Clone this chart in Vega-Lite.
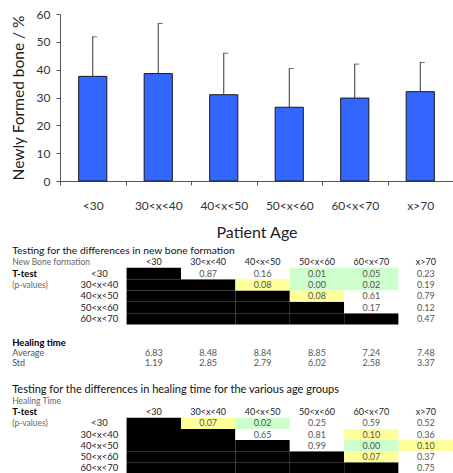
{
"$schema": "https://vega.github.io/schema/vega-lite/v6.json",
"padding": {"left": 11, "top": 8, "right": 0, "bottom": 0},
"config": {"view": {"stroke": null}, "font": "Lato"},
"datasets": {
"bone": [
{"age":"<30","mean":37.6,"upper":51.8},
{"age":"30<x<40","mean":38.6,"upper":56.6},
{"age":"40<x<50","mean":31.0,"upper":45.9},
{"age":"50<x<60","mean":26.5,"upper":40.4},
{"age":"60<x<70","mean":29.8,"upper":42.0},
{"age":"x>70","mean":32.1,"upper":42.6}
],
"nb": [
{"row":"<30","col":"<30","p":null},{"row":"<30","col":"30<x<40","p":0.87},{"row":"<30","col":"40<x<50","p":0.16},{"row":"<30","col":"50<x<60","p":0.01},{"row":"<30","col":"60<x<70","p":0.05},{"row":"<30","col":"x>70","p":0.23},
{"row":"30<x<40","col":"<30","p":null},{"row":"30<x<40","col":"30<x<40","p":null},{"row":"30<x<40","col":"40<x<50","p":0.08},{"row":"30<x<40","col":"50<x<60","p":0.00},{"row":"30<x<40","col":"60<x<70","p":0.02},{"row":"30<x<40","col":"x>70","p":0.19},
{"row":"40<x<50","col":"<30","p":null},{"row":"40<x<50","col":"30<x<40","p":null},{"row":"40<x<50","col":"40<x<50","p":null},{"row":"40<x<50","col":"50<x<60","p":0.08},{"row":"40<x<50","col":"60<x<70","p":0.61},{"row":"40<x<50","col":"x>70","p":0.79},
{"row":"50<x<60","col":"<30","p":null},{"row":"50<x<60","col":"30<x<40","p":null},{"row":"50<x<60","col":"40<x<50","p":null},{"row":"50<x<60","col":"50<x<60","p":null},{"row":"50<x<60","col":"60<x<70","p":0.17},{"row":"50<x<60","col":"x>70","p":0.12},
{"row":"60<x<70","col":"<30","p":null},{"row":"60<x<70","col":"30<x<40","p":null},{"row":"60<x<70","col":"40<x<50","p":null},{"row":"60<x<70","col":"50<x<60","p":null},{"row":"60<x<70","col":"60<x<70","p":null},{"row":"60<x<70","col":"x>70","p":0.47}
],
"ht": [
{"row":"<30","col":"<30","p":null},{"row":"<30","col":"30<x<40","p":0.07},{"row":"<30","col":"40<x<50","p":0.02},{"row":"<30","col":"50<x<60","p":0.25},{"row":"<30","col":"60<x<70","p":0.59},{"row":"<30","col":"x>70","p":0.52},
{"row":"30<x<40","col":"<30","p":null},{"row":"30<x<40","col":"30<x<40","p":null},{"row":"30<x<40","col":"40<x<50","p":0.65},{"row":"30<x<40","col":"50<x<60","p":0.81},{"row":"30<x<40","col":"60<x<70","p":0.10},{"row":"30<x<40","col":"x>70","p":0.36},
{"row":"40<x<50","col":"<30","p":null},{"row":"40<x<50","col":"30<x<40","p":null},{"row":"40<x<50","col":"40<x<50","p":null},{"row":"40<x<50","col":"50<x<60","p":0.99},{"row":"40<x<50","col":"60<x<70","p":0.00},{"row":"40<x<50","col":"x>70","p":0.10},
{"row":"50<x<60","col":"<30","p":null},{"row":"50<x<60","col":"30<x<40","p":null},{"row":"50<x<60","col":"40<x<50","p":null},{"row":"50<x<60","col":"50<x<60","p":null},{"row":"50<x<60","col":"60<x<70","p":0.07},{"row":"50<x<60","col":"x>70","p":0.37},
{"row":"60<x<70","col":"<30","p":null},{"row":"60<x<70","col":"30<x<40","p":null},{"row":"60<x<70","col":"40<x<50","p":null},{"row":"60<x<70","col":"50<x<60","p":null},{"row":"60<x<70","col":"60<x<70","p":null},{"row":"60<x<70","col":"x>70","p":0.75}
],
"heal": [
{"row":"Average","col":"<30","v":6.83},{"row":"Average","col":"30<x<40","v":8.48},{"row":"Average","col":"40<x<50","v":8.84},{"row":"Average","col":"50<x<60","v":8.85},{"row":"Average","col":"60<x<70","v":7.24},{"row":"Average","col":"x>70","v":7.48},
{"row":"Std","col":"<30","v":1.19},{"row":"Std","col":"30<x<40","v":2.85},{"row":"Std","col":"40<x<50","v":2.79},{"row":"Std","col":"50<x<60","v":6.02},{"row":"Std","col":"60<x<70","v":2.58},{"row":"Std","col":"x>70","v":3.37}
],
"hdr": [
{"row":"hdr","col":"<30"},{"row":"hdr","col":"30<x<40"},{"row":"hdr","col":"40<x<50"},{"row":"hdr","col":"50<x<60"},{"row":"hdr","col":"60<x<70"},{"row":"hdr","col":"x>70"}
],
"rowlab": [
{"row":"<30","col":"lbl"},{"row":"30<x<40","col":"lbl"},{"row":"40<x<50","col":"lbl"},{"row":"50<x<60","col":"lbl"},{"row":"60<x<70","col":"lbl"}
]
},
"bounds": "flush",
"spacing": 75.5,
"vconcat": [
{
"width": 393, "height": 167,
"data": {"name": "bone"},
"encoding": {"x": {"field": "age", "type": "nominal", "sort": null, "scale": {"paddingInner": 0, "paddingOuter": 0},
  "axis": {"title": "Patient Age", "labelAngle": 0, "tickBand": "extent", "tickSize": 4, "labelPadding": 15, "titlePadding": 13, "labelFontSize": 12, "titleFontSize": 16, "titleFontWeight": "normal", "domainColor": "#555", "tickColor": "#555", "labelColor": "#333", "titleColor": "#222"}}},
"layer": [
{"mark": {"type": "bar", "width": {"band": 0.43}, "fill": "#3366ff", "stroke": "#1a1a1a", "strokeWidth": 1},
 "encoding": {"y": {"field": "mean", "type": "quantitative", "title": "Newly Formed bone / %", "scale": {"domain": [0, 60], "nice": false},
   "axis": {"values": [0,10,20,30,40,50,60], "labelOverlap": false, "grid": false, "tickSize": 4, "labelPadding": 6, "titlePadding": 10, "labelFontSize": 12, "titleFontSize": 15.5, "titleFontWeight": "normal", "domainColor": "#555", "tickColor": "#555", "labelColor": "#333", "titleColor": "#222"}}}},
{"mark": {"type": "rule", "color": "#333", "strokeWidth": 1},
 "encoding": {"y": {"field": "mean", "type": "quantitative", "title": "Newly Formed bone / %",
   "axis": {"values": [0,10,20,30,40,50,60], "labelOverlap": false, "grid": false, "tickSize": 4, "labelPadding": 6, "titlePadding": 10, "labelFontSize": 12, "titleFontSize": 15.5, "titleFontWeight": "normal", "domainColor": "#555", "tickColor": "#555", "labelColor": "#333", "titleColor": "#222"}}, "y2": {"field": "upper"}}},
{"mark": {"type": "tick", "color": "#333", "size": 5, "thickness": 1, "xOffset": 2},
 "encoding": {"y": {"field": "upper", "type": "quantitative", "title": "Newly Formed bone / %",
   "axis": {"values": [0,10,20,30,40,50,60], "labelOverlap": false, "grid": false, "tickSize": 4, "labelPadding": 6, "titlePadding": 10, "labelFontSize": 12, "titleFontSize": 15.5, "titleFontWeight": "normal", "domainColor": "#555", "tickColor": "#555", "labelColor": "#333", "titleColor": "#222"}}}}
]
},
{
"bounds": "flush",
"spacing": 13,
"vconcat": [
{
"width": 393, "height": 68,
"title": {"text": "Testing for the differences in new bone formation", "anchor": "start", "frame": "bounds", "font": "Lato", "fontSize": 10.3, "fontWeight": "normal", "color": "#111", "offset": 0.5},
"encoding": {
 "x": {"field": "col", "type": "nominal", "scale": {"type": "band", "domain": ["lbl","<30","30<x<40","40<x<50","50<x<60","60<x<70","x>70"], "paddingInner": 0, "paddingOuter": 0.112, "align": 1}, "axis": null},
 "y": {"field": "row", "type": "nominal", "scale": {"type": "band", "domain": ["hdr","<30","30<x<40","40<x<50","50<x<60","60<x<70"], "paddingInner": 0, "paddingOuter": 0}, "axis": null}
},
"layer": [
{"data": {"name": "nb"}, "transform": [{"filter": "datum.p == null"}], "mark": {"type": "rect", "color": "#000000"}},
{"data": {"name": "nb"}, "transform": [{"filter": "datum.p != null"}], "mark": {"type": "rect"},
 "encoding": {"color": {"field": "p", "type": "quantitative", "scale": {"type": "threshold", "domain": [0.055, 0.105], "range": ["#ccffcc", "#ffff99", "#ffffff"]}, "legend": null}}},
{"data": {"name": "nb"}, "transform": [{"filter": "datum.p != null"}], "mark": {"type": "text", "font": "Lato", "fontSize": 9, "color": "#555"},
 "encoding": {"text": {"field": "p", "type": "quantitative", "format": ".2f"}}},
{"data": {"name": "hdr"}, "mark": {"type": "text", "font": "Lato", "fontSize": 9, "color": "#222"}, "encoding": {"text": {"field": "col"}}},
{"data": {"name": "rowlab"}, "mark": {"type": "text", "font": "Lato", "fontSize": 9.5, "color": "#222"}, "encoding": {"text": {"field": "row"}}},
{"data": {"values": [{"row": "hdr", "col": "lbl", "t": "New Bone formation"}, {"row": "30<x<40", "col": "lbl", "t": "(p-values)"}]},
 "mark": {"type": "text", "font": "Lato", "fontSize": 8.5, "color": "#666", "align": "left", "dx": -60},
 "encoding": {"x": {"field": "col", "type": "nominal", "bandPosition": 0, "axis": null}, "text": {"field": "t"}}},
{"data": {"values": [{"row": "<30", "col": "lbl", "t": "T-test"}]},
 "mark": {"type": "text", "font": "Lato", "fontSize": 9.5, "fontWeight": "bold", "color": "#000", "align": "left", "dx": -60},
 "encoding": {"x": {"field": "col", "type": "nominal", "bandPosition": 0, "axis": null}, "text": {"field": "t"}}}
]
},
{
"bounds": "flush",
"spacing": 27,
"vconcat": [
{
"width": 393, "height": 31,
"encoding": {
 "x": {"field": "col", "type": "nominal", "scale": {"type": "band", "domain": ["lbl","<30","30<x<40","40<x<50","50<x<60","60<x<70","x>70"], "paddingInner": 0, "paddingOuter": 0.112, "align": 1}, "axis": null},
 "y": {"field": "row", "type": "nominal", "scale": {"type": "band", "domain": ["head","Average","Std"], "paddingInner": 0, "paddingOuter": 0}, "axis": null}
},
"layer": [
{"data": {"name": "heal"}, "mark": {"type": "text", "font": "Lato", "fontSize": 9, "color": "#555"},
 "encoding": {"text": {"field": "v", "type": "quantitative", "format": ".2f"}}},
{"data": {"values": [{"row": "Average", "col": "lbl"}, {"row": "Std", "col": "lbl"}]},
 "mark": {"type": "text", "font": "Lato", "fontSize": 9, "color": "#555", "align": "left", "dx": -60},
 "encoding": {"x": {"field": "col", "type": "nominal", "bandPosition": 0, "axis": null}, "text": {"field": "row"}}},
{"data": {"values": [{"row": "head", "col": "lbl", "t": "Healing time"}]},
 "mark": {"type": "text", "font": "Lato", "fontSize": 9.5, "fontWeight": "bold", "color": "#000", "align": "left", "dx": -60},
 "encoding": {"x": {"field": "col", "type": "nominal", "bandPosition": 0, "axis": null}, "text": {"field": "t"}}}
]
},
{
"width": 393, "height": 78,
"title": {"text": "Testing for the differences in healing time for the various age groups", "anchor": "start", "frame": "bounds", "font": "Lato", "fontSize": 11, "fontWeight": "normal", "color": "#111", "offset": 0.5},
"encoding": {
 "x": {"field": "col", "type": "nominal", "scale": {"type": "band", "domain": ["lbl","<30","30<x<40","40<x<50","50<x<60","60<x<70","x>70"], "paddingInner": 0, "paddingOuter": 0.112, "align": 1}, "axis": null},
 "y": {"field": "row", "type": "nominal", "scale": {"type": "band", "domain": ["note","hdr","<30","30<x<40","40<x<50","50<x<60","60<x<70"], "paddingInner": 0, "paddingOuter": 0}, "axis": null}
},
"layer": [
{"data": {"name": "ht"}, "transform": [{"filter": "datum.p == null"}], "mark": {"type": "rect", "color": "#000000"}},
{"data": {"name": "ht"}, "transform": [{"filter": "datum.p != null"}], "mark": {"type": "rect"},
 "encoding": {"color": {"field": "p", "type": "quantitative", "scale": {"type": "threshold", "domain": [0.055, 0.105], "range": ["#ccffcc", "#ffff99", "#ffffff"]}, "legend": null}}},
{"data": {"name": "ht"}, "transform": [{"filter": "datum.p != null"}], "mark": {"type": "text", "font": "Lato", "fontSize": 9, "color": "#555"},
 "encoding": {"text": {"field": "p", "type": "quantitative", "format": ".2f"}}},
{"data": {"name": "hdr"}, "mark": {"type": "text", "font": "Lato", "fontSize": 9, "color": "#222"}, "encoding": {"text": {"field": "col"}}},
{"data": {"name": "rowlab"}, "mark": {"type": "text", "font": "Lato", "fontSize": 9.5, "color": "#222"}, "encoding": {"text": {"field": "row"}}},
{"data": {"values": [{"row": "note", "col": "lbl", "t": "Healing Time"}, {"row": "<30", "col": "lbl", "t": "(p-values)"}]},
 "mark": {"type": "text", "font": "Lato", "fontSize": 8.5, "color": "#666", "align": "left", "dx": -60},
 "encoding": {"x": {"field": "col", "type": "nominal", "bandPosition": 0, "axis": null}, "text": {"field": "t"}}},
{"data": {"values": [{"row": "hdr", "col": "lbl", "t": "T-test"}]},
 "mark": {"type": "text", "font": "Lato", "fontSize": 9.5, "fontWeight": "bold", "color": "#000", "align": "left", "dx": -60},
 "encoding": {"x": {"field": "col", "type": "nominal", "bandPosition": 0, "axis": null}, "text": {"field": "t"}}}
]
}
]
}
]
}
]
}
